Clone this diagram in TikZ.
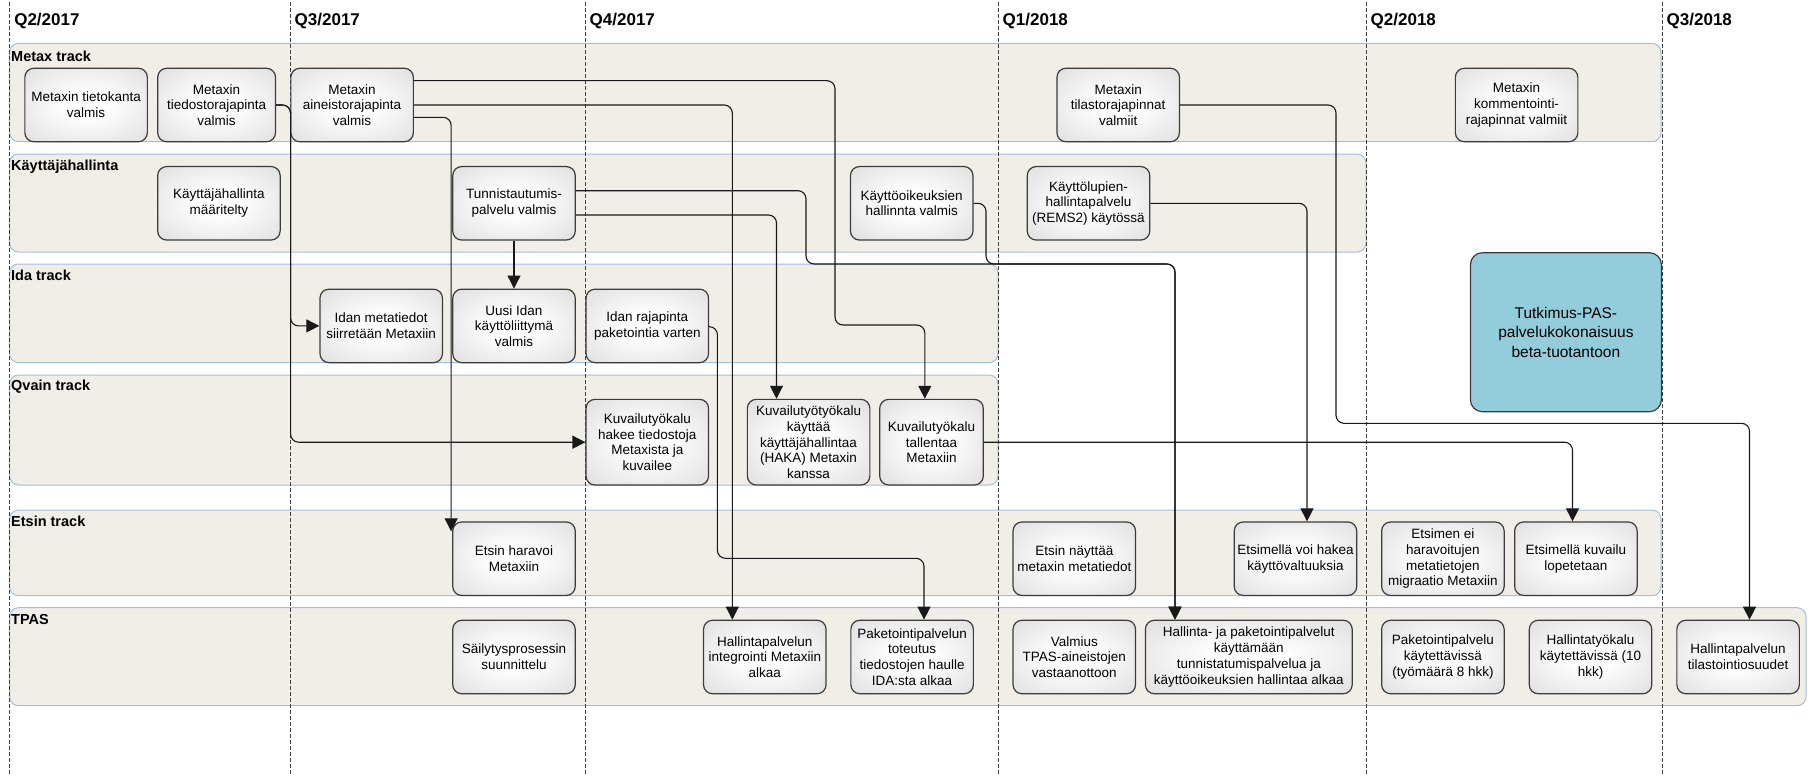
\documentclass[tikz,border=0pt]{standalone}
\usepackage{fontspec}
\setmainfont{Liberation Sans}
\usepackage{xcolor}
\usepackage{tikz}
\usetikzlibrary{arrows.meta, calc}

\definecolor{lanefill}{HTML}{F1EEE8}
\definecolor{laneline}{HTML}{A4BEDF}
\definecolor{boxline}{HTML}{3C3C3C}
\definecolor{boxmid}{HTML}{E6E6E6}
\definecolor{boxshade}{HTML}{CCCCCC}
\definecolor{boxcorner}{HTML}{BDBDBD}
\definecolor{betafill}{HTML}{93CDDB}
\pgfdeclareradialshading{boxglow}{\pgfpoint{0bp}{0bp}}{%
    color(0bp)=(white); color(8bp)=(white); color(30bp)=(boxmid); color(50bp)=(boxshade); color(72bp)=(boxcorner)}

\begin{document}
\begin{tikzpicture}[
    x=1pt, y=-1pt,
    lane/.style={draw=laneline, fill=lanefill, line width=1pt, rounded corners=9pt},
    lanetitle/.style={anchor=west, inner sep=0pt, font=\bfseries\fontsize{14.5}{16}\selectfont},
    quarter/.style={anchor=west, inner sep=0pt, font=\bfseries\fontsize{17}{19}\selectfont},
    divider/.style={draw=black!75, line width=0.9pt, dash pattern=on 4pt off 2pt},
    task/.style={draw=boxline, line width=1.2pt, rounded corners=9pt, shade, shading=boxglow,
        align=center, minimum width=122.5pt, minimum height=73.5pt, inner sep=2pt, font=\fontsize{13.5}{15.7}\selectfont},
    tall/.style={minimum height=85.7pt},
    beta/.style={draw=boxline, line width=1.2pt, rounded corners=12pt, fill=betafill, align=center,
        minimum width=191pt, minimum height=159pt, font=\fontsize{15.5}{19.5}\selectfont},
    flow/.style={draw=black!90, line width=1.1pt, rounded corners=8pt, -{Triangle[length=13pt, width=13pt]}}
]
    \useasboundingbox (0,0) rectangle (1808,776);

    % Lanes
    \draw[lane] (9.6,43.3) rectangle (1661,141.7);
    \draw[lane] (9.6,154) rectangle (1366,252);
    \draw[lane] (9.6,264) rectangle (998,362.7);
    \draw[lane] (9.6,375) rectangle (998,485);
    \draw[lane] (9.6,510) rectangle (1661,595.7);
    \draw[lane] (9.6,607.7) rectangle (1806,705.7);
    \node[lanetitle] (tmetax) at (11,56) {Metax track};
    \node[lanetitle] (tkayttaja) at (11,166.7) {Käyttäjähallinta};
    \node[lanetitle] (tida) at (11,275) {Ida track};
    \node[lanetitle] (tqvain) at (11,386.7) {Qvain track};
    \node[lanetitle] (tetsin) at (11,521.7) {Etsin track};
    \node[lanetitle] (ttpas) at (11,619.3) {TPAS};

    % Quarters
    \foreach \x/\q/\yr [count=\i] in {9.6/2/2017, 290/3/2017, 585/4/2017, 998/1/2018, 1366/2/2018, 1662/3/2018} {
        \draw[divider] (\x,2) -- (\x,776);
        \node[quarter] (q\i) at (\x+4.5,21) {Q\q/\yr};
    }

    % Nodes
    \node[task] (tietokanta) at (86.1,105) {Metaxin tietokanta\\valmis};
    \node[task, minimum width=117.8pt] (tiedostoapi) at (216.6,105) {Metaxin\\tiedostorajapinta\\valmis};
    \node[task] (aineistoapi) at (352.1,105) {Metaxin\\aineistorajapinta\\valmis};
    \node[task] (tilastoapi) at (1118.2,105) {Metaxin\\tilastorajapinnat\\valmiit};
    \node[task] (kommenttiapi) at (1516.6,105) {Metaxin\\kommentointi-\\rajapinnat valmiit};
    \node[task] (kaytmaar) at (218.9,203.3) {Käyttäjähallinta\\määritelty};
    \node[task] (tunnistus) at (514,203.3) {Tunnistautumis-\\palvelu valmis};
    \node[task] (oikeudet) at (911.7,203.3) {Käyttöoikeuksien\\hallinnta valmis};
    \node[task] (rems) at (1088.5,203.3) {Käyttölupien-\\hallintapalvelu\\(REMS2) käytössä};
    \node[task] (idameta) at (381.2,325.9) {Idan metatiedot\\siirretään Metaxiin};
    \node[task] (idaui) at (514,325.9) {Uusi Idan\\käyttöliittymä\\valmis};
    \node[task] (idaapi) at (647.3,325.9) {Idan rajapinta\\paketointia varten};
    \node[task, tall] (qvhaku) at (647.3,442.2) {Kuvailutyökalu\\hakee tiedostoja\\Metaxista ja\\kuvailee};
    \node[task, tall] (qvhaka) at (808.6,442.2) {Kuvailutyötyökalu\\käyttää\\käyttäjähallintaa\\(HAKA) Metaxin\\kanssa};
    \node[task, tall, minimum width=103.6pt] (qvtallennus) at (931.5,442.2) {Kuvailutyökalu\\tallentaa\\Metaxiin};
    \node[task] (haravointi) at (514,558.7) {Etsin haravoi\\Metaxiin};
    \node[task] (naytto) at (1074.3,558.7) {Etsin näyttää\\metaxin metatiedot};
    \node[task] (valtuudet) at (1295.5,558.7) {Etsimellä voi hakea\\käyttövaltuuksia};
    \node[task] (migraatio) at (1442.9,558.7) {Etsimen ei\\haravoitujen\\metatietojen\\migraatio Metaxiin};
    \node[task] (kuvailuloppu) at (1575.9,558.7) {Etsimellä kuvailu\\lopetetaan};
    \node[task] (sailytys) at (514,657) {Säilytysprosessin\\suunnittelu};
    \node[task] (integrointi) at (764.8,657) {Hallintapalvelun\\integrointi Metaxiin\\alkaa};
    \node[task] (paketointi) at (912.1,657) {Paketointipalvelun\\toteutus\\tiedostojen haulle\\IDA:sta alkaa};
    \node[task] (valmius) at (1074.3,657) {Valmius\\TPAS-aineistojen\\vastaanottoon};
    \node[task, minimum width=206.8pt] (tunnistuskaytto) at (1248.8,657) {Hallinta- ja paketointipalvelut\\käyttämään\\tunnistatumispalvelua ja\\käyttöoikeuksien hallintaa alkaa};
    \node[task] (pakettikaytossa) at (1442.9,657) {Paketointipalvelu\\käytettävissä\\(työmäärä 8 hkk)};
    \node[task] (hallintatyokalu) at (1590.5,657) {Hallintatyökalu\\käytettävissä (10\\hkk)};
    \node[task] (tilastointi) at (1738.1,657) {Hallintapalvelun\\tilastointiosuudet};
    \node[beta] (betatuotanto) at (1565.9,332.2) {Tutkimus-PAS-\\palvelukokonaisuus\\beta-tuotantoon};

    % Connections
    \draw[flow] (tiedostoapi.east) -- ++(14.5,0) |- (idameta.west);
    \draw[flow] (tiedostoapi.east) -- ++(14.5,0) |- (qvhaku.west);
    \draw[flow] ($(aineistoapi.east)+(0,-24.3)$) -| (835,325) -| ($(qvtallennus.north)+(-6.7,0)$);
    \draw[flow] (aineistoapi.east) -| ($(integrointi.north)+(-32.5,0)$);
    \draw[flow] ($(aineistoapi.east)+(0,12.3)$) -| ($(haravointi.north west)+(-1,10)$);
    \draw[flow] (tunnistus.south) -- (idaui.north);
    \draw[flow] ($(tunnistus.east)+(0,-12.6)$) -| (806,264) -| ($(tunnistuskaytto.north)+(-73.8,0)$);
    \draw[flow] ($(tunnistus.east)+(0,11.7)$) -| ($(qvhaka.north)+(-32.1,0)$);
    \draw[flow] (oikeudet.east) -| (986,264) -| ($(tunnistuskaytto.north)+(-73.8,0)$);
    \draw[flow] ($(idaapi.east)+(0,0.8)$) -| (717.4,558.3) -| ($(paketointi.north)+(11.9,0)$);
    \draw[flow] (tilastoapi.east) -| (1336,423.3) -| ($(tilastointi.north)+(11.4,0)$);
    \draw[flow] (rems.east) -| ($(valtuudet.north)+(11.5,0)$);
    \draw[flow] (qvtallennus.east) -| ($(kuvailuloppu.north)+(-3.4,0)$);
\end{tikzpicture}
\end{document}
